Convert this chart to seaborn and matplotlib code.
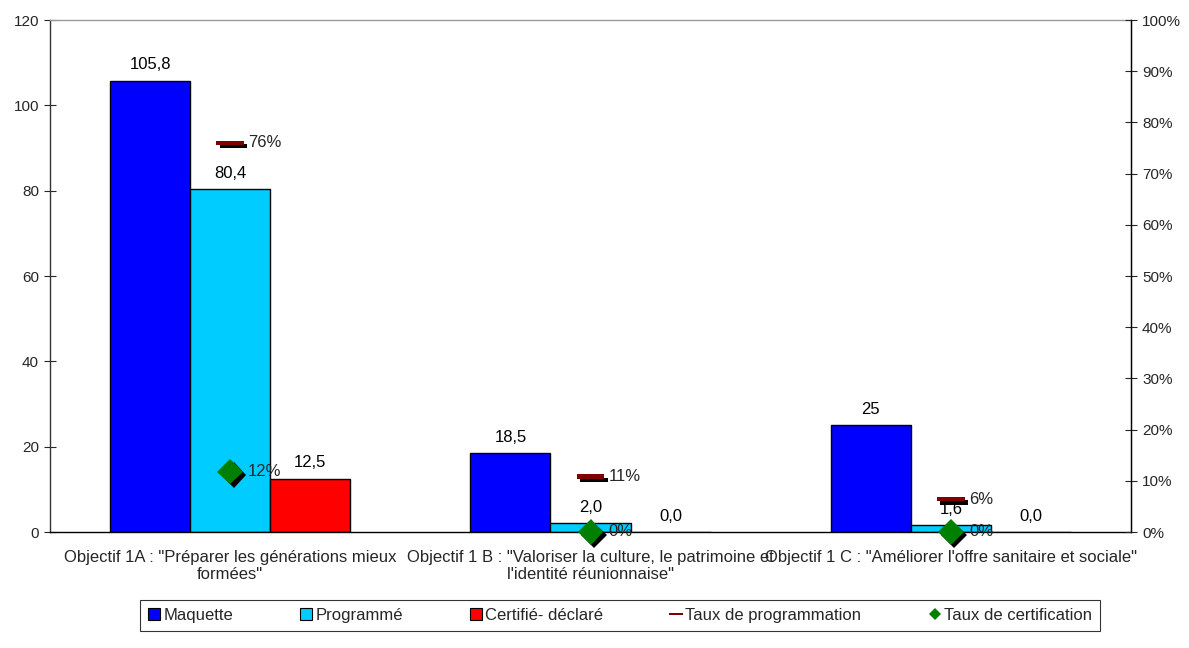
import matplotlib
matplotlib.use("Agg")
import matplotlib.pyplot as plt
import matplotlib.patheffects as pe
from matplotlib.lines import Line2D
from matplotlib.patches import Patch
import pandas as pd
import seaborn as sns

# --- data -------------------------------------------------------------
categories = [
    "Objectif 1A : \"Préparer les générations mieux\nformées\"",
    "Objectif 1 B : \"Valoriser la culture, le patrimoine et\nl'identité réunionnaise\"",
    "Objectif 1 C : \"Améliorer l'offre sanitaire et sociale\"",
]
series = ["Maquette", "Programmé", "Certifié- déclaré"]
maquette = [105.8, 18.5, 25.0]
programme = [80.4, 2.0, 1.6]
certifie = [12.5, 0.0, 0.0]
# decimals shown in each bar label (per series, per category)
decimals = [[1, 1, 0], [1, 1, 1], [1, 1, 1]]

taux_programmation = [p / m for p, m in zip(programme, maquette)]
taux_certification = [c / m for c, m in zip(certifie, maquette)]

colors = ["#0000FF", "#00CCFF", "#FF0000"]
col_prog = "#800000"
col_cert = "#008000"

# --- figure -------------------------------------------------------------
sns.set_style("white")
plt.rcParams["font.family"] = ["Liberation Sans", "DejaVu Sans"]
plt.rcParams["font.size"] = 12

fig = plt.figure(figsize=(11.89, 6.48), dpi=100)
ax = fig.add_axes([50 / 1189, 1 - 532 / 648, 1081 / 1189, 512 / 648])

df = pd.DataFrame({
    "categorie": categories * 3,
    "serie": [s for s in series for _ in categories],
    "valeur": maquette + programme + certifie,
})

sns.barplot(data=df, x="categorie", y="valeur", hue="serie",
            order=categories, hue_order=series, palette=colors,
            saturation=1, width=0.667, edgecolor="black", linewidth=1,
            legend=False, ax=ax)

def fmt(v, d):
    return f"{v:.{d}f}".replace(".", ",")

for cont, vals, decs in zip(ax.containers, [maquette, programme, certifie], decimals):
    ax.bar_label(cont, labels=[fmt(v, d) for v, d in zip(vals, decs)],
                 padding=6, fontsize=12, color="black")

ax.set_ylim(0, 120)
ax.set_xlim(-0.5, 2.5)
ax.set_yticks(range(0, 121, 20))
ax.set_xlabel("")
ax.set_ylabel("")
ax.set_xticks([0, 1, 2])
ax.set_xticklabels(categories, fontsize=12)
ax.tick_params(axis="x", which="major", length=0, pad=13)
ax.set_xticks([-0.5, 0.5, 1.5, 2.5], minor=True)
ax.tick_params(axis="x", which="minor", direction="inout", length=8, width=0.8)
ax.tick_params(axis="y", direction="inout", length=8, width=0.8, labelsize=11, pad=4)
ax.yaxis.set_ticks_position("left")

for side, c in [("left", "#333333"), ("bottom", "black"), ("top", "#999999"), ("right", "black")]:
    ax.spines[side].set_visible(True)
    ax.spines[side].set_color(c)
    ax.spines[side].set_linewidth(1)

# --- rates on secondary axis ---------------------------------------------
ax2 = ax.twinx()
ax2.set_ylim(0, 1)
ax2.set_yticks([i / 10 for i in range(11)])
ax2.set_yticklabels([f"{i * 10}%" for i in range(11)])
ax2.tick_params(axis="y", direction="inout", length=8, width=0.8, labelsize=11, pad=4)
for side in ["left", "top", "bottom"]:
    ax2.spines[side].set_visible(False)
ax2.spines["right"].set_color("black")

shadow = [pe.SimplePatchShadow(offset=(2.4, -2.4), shadow_rgbFace="black", alpha=1.0), pe.Normal()]
dash = [(-1, -0.16), (1, -0.16), (1, 0.16), (-1, 0.16), (-1, -0.16)]
xs = list(range(len(categories)))

ax2.plot(xs, taux_programmation, linestyle="none", marker=dash, markersize=20,
         markerfacecolor=col_prog, markeredgewidth=0, path_effects=shadow, zorder=5,
         clip_on=False)
ax2.plot(xs, taux_certification, linestyle="none", marker="D", markersize=13,
         markerfacecolor=col_cert, markeredgewidth=0, path_effects=shadow, zorder=6,
         clip_on=False)

for x, r in zip(xs, taux_programmation):
    ax2.annotate(f"{round(r * 100)}%", (x, r), xytext=(13, 0), textcoords="offset points",
                 va="center", ha="left", fontsize=12)
for x, r in zip(xs, taux_certification):
    ax2.annotate(f"{round(r * 100)}%", (x, r), xytext=(13, 0), textcoords="offset points",
                 va="center", ha="left", fontsize=12)

# --- legend ---------------------------------------------------------------
handles = [Patch(facecolor=c, edgecolor="black", linewidth=0.8) for c in colors]
handles += [
    Line2D([], [], linestyle="none", marker=dash, markersize=10, markerfacecolor=col_prog,
           markeredgewidth=0),
    Line2D([], [], linestyle="none", marker="D", markersize=6, markerfacecolor=col_cert,
           markeredgewidth=0),
]
labels = series + ["Taux de programmation", "Taux de certification"]
leg = fig.legend(handles, labels, loc="center", ncol=5, mode="expand",
                 bbox_to_anchor=(140 / 1189, 1 - 633 / 648, 960 / 1189, 35 / 648),
                 frameon=True, fancybox=False, edgecolor="black", fontsize=12,
                 handlelength=0.7, handleheight=0.7, handletextpad=0.2,
                 borderpad=0.5, borderaxespad=0)
leg.get_frame().set_linewidth(0.8)

fig.savefig("out.png", dpi=100, facecolor="white")
